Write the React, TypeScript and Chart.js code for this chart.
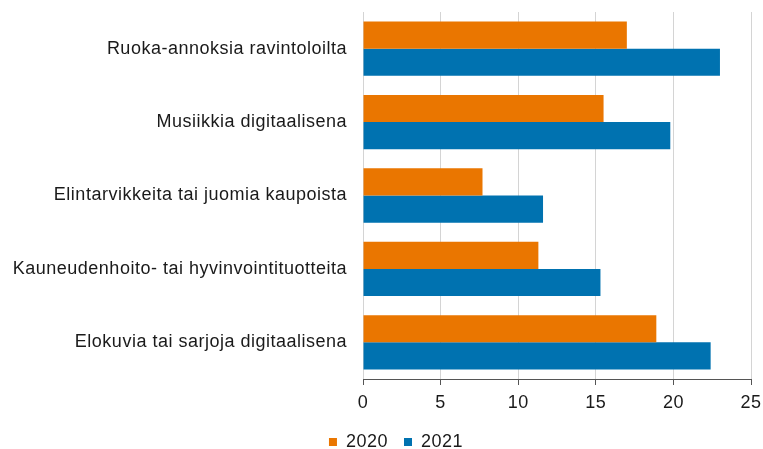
import React, { useEffect, useRef } from "react";
import { Chart, registerables } from "chart.js";

Chart.register(...registerables);

const categories = [
  "Ruoka-annoksia ravintoloilta",
  "Musiikkia digitaalisena",
  "Elintarvikkeita tai juomia kaupoista",
  "Kauneudenhoito- tai hyvinvointituotteita",
  "Elokuvia tai sarjoja digitaalisena",
];
const values2020 = [17.0, 15.5, 7.7, 11.3, 18.9];
const values2021 = [23.0, 19.8, 11.6, 15.3, 22.4];
const seriesLabels = ["2020", "2021"];
const xTicks = [0, 5, 10, 15, 20, 25];

const tweakPlugin = {
  id: "tweaks",
  beforeLayout(chart: any) {
    chart.ctx.letterSpacing = "0.5px";
  },
  beforeDraw(chart: any) {
    chart.ctx.letterSpacing = "0.5px";
    const lg = chart.legend;
    if (lg) {
      const h = lg.height;
      lg.left = 41;
      lg.right = 751;
      lg.width = 710;
      lg.top = 417;
      lg.bottom = 417 + h;
    }
  },
};

export default function App() {
  const ref = useRef<HTMLCanvasElement | null>(null);
  useEffect(() => {
    document.body.style.margin = "0";
    if (!ref.current) return;
    const font = { family: "'Liberation Sans', Arial, sans-serif", size: 18 };
    const chart = new Chart(ref.current, {
      type: "bar",
      data: {
        labels: categories,
        datasets: [
          { label: seriesLabels[0], data: values2020, backgroundColor: "#ea7600" },
          { label: seriesLabels[1], data: values2021, backgroundColor: "#0072b0" },
        ],
      },
      plugins: [tweakPlugin],
      options: {
        indexAxis: "y",
        responsive: false,
        animation: false,
        layout: { padding: { top: 12, right: 12, bottom: -14, left: 0 } },
        datasets: { bar: { categoryPercentage: 0.74, barPercentage: 1 } },
        scales: {
          x: {
            min: 0,
            max: 25,
            afterBuildTicks: (s: any) => {
              s.ticks = xTicks.map((v) => ({ value: v }));
            },
            afterFit: (s: any) => {
              s.height = 40;
              s.paddingLeft = 0;
              s.paddingRight = 0;
            },
            ticks: { color: "#1a1a1a", font, padding: 7, maxRotation: 0 },
            grid: { color: "#d4d4d4", tickColor: "#555", tickLength: 6 },
            border: { display: true, color: "#555" },
          },
          y: {
            afterFit: (s: any) => {
              s.width = 363;
            },
            ticks: { color: "#1a1a1a", font, padding: 0 },
            grid: {
              display: true,
              drawOnChartArea: false,
              drawTicks: true,
              tickLength: 16,
              color: "rgba(0,0,0,0)",
            },
            border: { display: false },
          },
        },
        plugins: {
          legend: {
            position: "bottom",
            labels: {
              boxWidth: 8,
              boxHeight: 8,
              color: "#1a1a1a",
              font: { ...font, lineHeight: 1 },
              padding: 16,
            },
          },
          tooltip: { enabled: false },
        },
      },
    });
    return () => chart.destroy();
  }, []);
  return <canvas ref={ref} width={763} height={449} style={{ display: "block" }} />;
}
